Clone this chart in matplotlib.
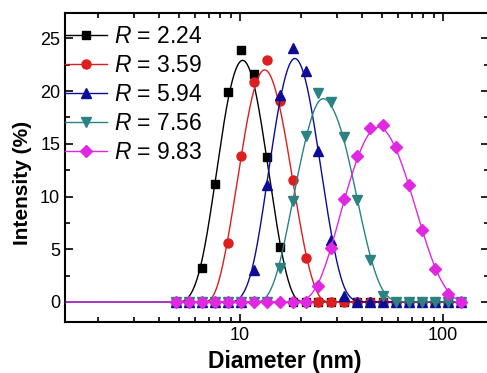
import numpy as np
import matplotlib.pyplot as plt

plt.rcParams['font.family'] = ['Liberation Sans', 'DejaVu Sans']
plt.rcParams['mathtext.fontset'] = 'custom'
plt.rcParams['mathtext.it'] = 'Liberation Sans:italic'
plt.rcParams['mathtext.rm'] = 'Liberation Sans'

# size bins (nm)
diameters = [4.849, 5.615, 6.503, 7.531, 8.721, 10.10, 11.70, 13.54, 15.69, 18.17,
             21.04, 24.36, 28.21, 32.67, 37.84, 43.82, 50.75, 58.77, 68.06, 78.82,
             91.28, 105.7, 122.4]

r_labels = ["2.24", "3.59", "5.94", "7.56", "9.83"]

int_224 = [0, 0, 3.2, 11.2, 19.9, 23.9, 21.6, 13.7, 5.2, 0, 0, 0, 0, 0, 0, 0,
           0, 0, 0, 0, 0, 0, 0]
int_359 = [0, 0, 0, 0, 5.6, 13.8, 20.9, 22.9, 19.1, 11.6, 4.2, 0, 0, 0, 0, 0,
           0, 0, 0, 0, 0, 0, 0]
int_594 = [0, 0, 0, 0, 0, 0, 3.0, 11.1, 19.6, 24.1, 21.9, 14.3, 5.9, 0.6, 0, 0,
           0, 0, 0, 0, 0, 0, 0]
int_756 = [0, 0, 0, 0, 0, 0, 0, 0, 3.2, 9.6, 15.7, 19.8, 19.0, 15.6, 9.7, 4.0,
           0.6, 0, 0, 0, 0, 0, 0]
int_983 = [0, 0, 0, 0, 0, 0, 0, 0, 0, 0, 0, 1.5, 5.1, 9.8, 13.8, 16.5,
           16.8, 14.7, 11.1, 6.8, 3.1, 0.8, 0]

series = [int_224, int_359, int_594, int_756, int_983]
colors = ["#000000", "#dc1e1e", "#0c0c96", "#2a8282", "#e028e0"]
markers = ["s", "o", "^", "v", "D"]
msizes = [5.5, 6.5, 7, 7, 6.5]

XMIN, XMAX = 1.374, 168.5


def bspline(px, py, n=20):
    """uniform cubic B-spline using the points as control points (Origin style)"""
    px = np.concatenate([[px[0]] * 2, px, [px[-1]] * 2])
    py = np.concatenate([[py[0]] * 2, py, [py[-1]] * 2])
    t = np.linspace(0, 1, n, endpoint=False)
    b0 = (1 - t) ** 3 / 6
    b1 = (3 * t ** 3 - 6 * t ** 2 + 4) / 6
    b2 = (-3 * t ** 3 + 3 * t ** 2 + 3 * t + 1) / 6
    b3 = t ** 3 / 6
    ox, oy = [], []
    for i in range(len(px) - 3):
        ox.append(b0 * px[i] + b1 * px[i + 1] + b2 * px[i + 2] + b3 * px[i + 3])
        oy.append(b0 * py[i] + b1 * py[i + 1] + b2 * py[i + 2] + b3 * py[i + 3])
    return np.concatenate(ox), np.concatenate(oy)


fig = plt.figure(figsize=(4.87, 3.73), dpi=100)
ax = fig.add_axes([65 / 487, 1 - 322 / 373, 424 / 487, 309 / 373])

x = np.array(diameters)
for vals, c, m, ms, lab in zip(series, colors, markers, msizes, r_labels):
    y = np.array(vals, dtype=float)
    sx, sy = bspline(np.log10(x), y)
    sx = np.concatenate([[np.log10(XMIN)], sx])
    sy = np.concatenate([[0.0], sy])
    ax.plot(10 ** sx, sy, color=c, lw=1.0)
    ax.plot(x, y, ls="none", marker=m, ms=ms, color=c, mec=c)
    ax.plot([], [], color=c, lw=1.0, marker=m, ms=ms, label=f"$R$ = {lab}")

ax.set_xscale("log")
ax.set_xlim(XMIN, XMAX)
ax.set_ylim(-1.9, 27.4)
ax.set_yticks([0, 5, 10, 15, 20, 25])
ax.set_yticks(np.arange(0, 27.5, 2.5), minor=True)
ax.set_xticks([10, 100])
ax.set_xticklabels(["10", "100"])
ax.tick_params(which="both", direction="in", top=True, right=True, labelsize=13, width=1.2)
ax.tick_params(which="major", length=6)
ax.tick_params(which="minor", length=3.5)
for s in ax.spines.values():
    s.set_linewidth(1.5)

ax.set_xlabel("Diameter (nm)", fontsize=16.5, fontweight="bold")
ax.set_ylabel("Intensity (%)", fontsize=15, fontweight="bold")
ax.xaxis.set_label_coords(0.518, -0.09)
ax.yaxis.set_label_coords(-0.078, 0.45)

ax.legend(loc="upper left", bbox_to_anchor=(0, 0.962), frameon=False, fontsize=16.5,
          handlelength=1.85, handletextpad=0.27, labelspacing=0.27, borderpad=0,
          borderaxespad=0)

fig.savefig("out.png", dpi=100)
